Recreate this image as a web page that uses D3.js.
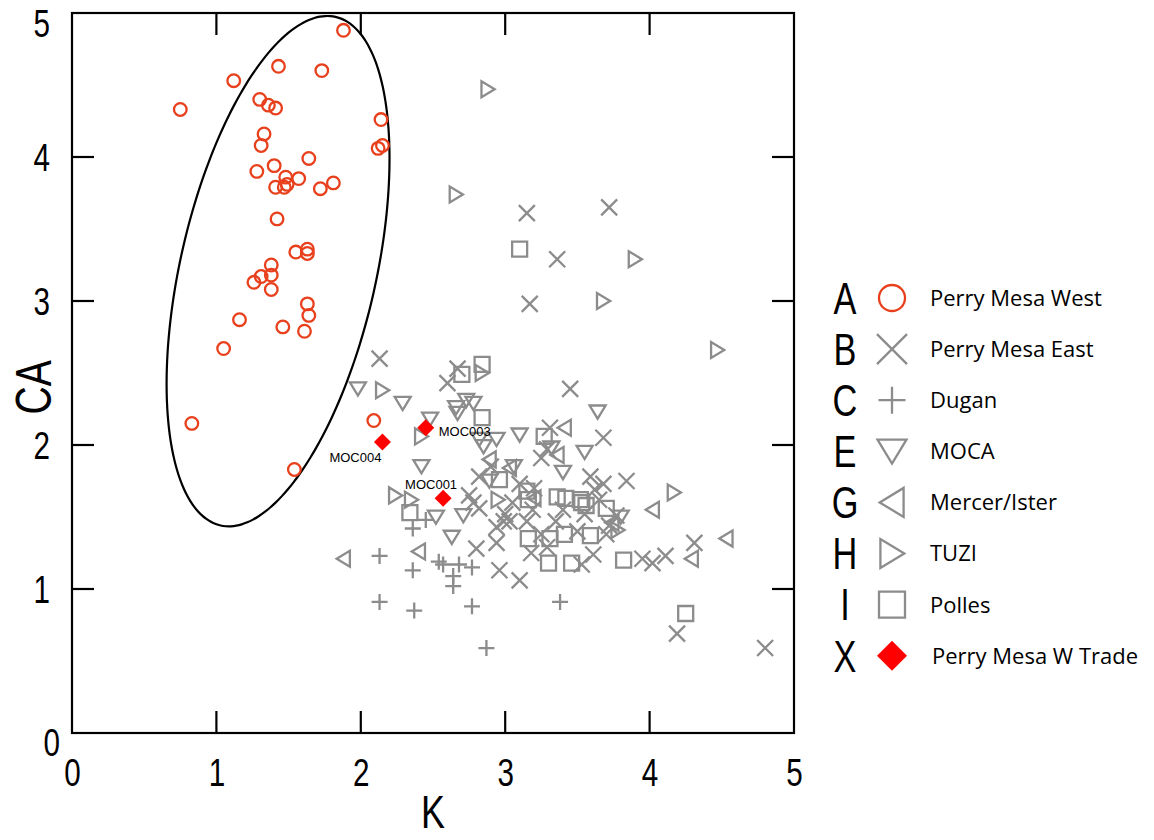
<!DOCTYPE html>
<html>
<head>
<meta charset="utf-8">
<script src="https://cdn.jsdelivr.net/npm/d3@7"></script>
<style>
  body { margin: 0; background: #fff; }
  svg { display: block; }
</style>
</head>
<body>
<svg width="1154" height="840"></svg>
<script>
// axis ticks
const kTicks = [0, 1, 2, 3, 4, 5];
const caTicks = [0, 1, 2, 3, 4, 5];

// [K, CA] per group
const perryMesaWest = [[1.88,4.88],[1.43,4.63],[1.73,4.60],[1.12,4.53],[0.75,4.33],[1.30,4.40],[1.36,4.36],[1.41,4.34],
  [2.14,4.26],[1.33,4.16],[1.31,4.08],[2.15,4.08],[2.12,4.06],[1.64,3.99],[1.28,3.90],[1.40,3.94],[1.48,3.86],[1.57,3.85],
  [1.41,3.79],[1.49,3.81],[1.47,3.79],[1.81,3.82],[1.72,3.78],[1.42,3.57],[1.55,3.34],[1.63,3.36],[1.63,3.33],[1.38,3.25],
  [1.31,3.17],[1.26,3.13],[1.38,3.18],[1.38,3.08],[1.63,2.98],[1.64,2.90],[1.16,2.87],[1.46,2.82],[1.61,2.79],[1.05,2.67],
  [0.83,2.15],[2.09,2.17],[1.54,1.83]];
const perryMesaEast = [[3.15,3.61],[3.72,3.65],[3.36,3.29],[3.17,2.98],[2.13,2.60],[2.67,2.53],[2.60,2.43],[3.45,2.39],
  [3.68,2.05],[3.31,2.12],[3.25,1.91],[3.29,1.97],[2.82,1.78],[3.10,1.73],[3.59,1.78],[3.68,1.73],[3.84,1.75],[3.62,1.69],
  [2.78,1.60],[2.75,1.65],[2.82,1.56],[2.99,1.47],[2.94,1.43],[3.03,1.47],[3.15,1.47],[3.19,1.55],[2.80,1.28],[2.94,1.32],
  [2.96,1.13],[3.10,1.06],[3.18,1.25],[3.29,1.29],[3.53,1.17],[3.61,1.24],[3.72,1.44],[3.77,1.51],[3.95,1.21],[4.02,1.18],
  [4.11,1.23],[4.31,1.32],[4.19,0.69],[4.80,0.59],[3.05,1.60],[3.20,1.70],[3.40,1.55],[3.55,1.52],[3.50,1.40],[3.65,1.62],
  [3.25,1.38],[2.90,1.85],[3.00,1.52],[3.35,1.47],[3.70,1.38]];
const dugan = [[2.36,1.42],[2.45,1.48],[2.13,1.23],[2.36,1.13],[2.54,1.19],[2.57,1.17],[2.68,1.17],[2.77,1.15],[2.64,1.09],
  [2.64,1.02],[2.13,0.91],[2.37,0.85],[2.77,0.88],[2.87,0.59],[3.38,0.91]];
const moca = [[1.98,2.39],[2.29,2.29],[2.48,2.18],[2.42,1.85],[2.52,1.50],[2.71,1.51],[2.63,1.36],[2.73,2.31],[2.66,2.26],
  [2.78,2.29],[2.67,2.22],[2.82,2.04],[2.94,2.04],[3.10,2.07],[2.85,1.99],[3.06,1.85],[3.32,1.98],[3.40,1.81],[2.89,1.75],
  [3.64,2.23],[3.55,1.95],[3.80,1.50]];
const mercerIster = [[1.88,1.21],[2.40,1.26],[2.89,1.90],[3.03,1.84],[3.41,2.12],[3.36,1.93],[4.02,1.55],[4.53,1.35],
  [4.29,1.21],[3.20,1.63],[3.74,1.46]];
const tuzi = [[2.88,4.47],[2.66,3.74],[3.90,3.29],[3.68,3.00],[4.47,2.66],[4.17,1.67],[2.15,2.38],[2.42,2.06],[2.84,2.50],
  [2.24,1.65],[2.35,1.62],[3.78,1.41],[2.95,1.62]];
const polles = [[3.10,3.36],[2.84,2.56],[2.70,2.49],[2.84,2.19],[2.34,1.53],[3.27,2.06],[2.96,1.76],[3.16,1.62],[3.36,1.64],
  [3.42,1.63],[3.53,1.60],[3.56,1.58],[3.70,1.56],[3.16,1.35],[3.31,1.35],[3.41,1.38],[3.59,1.37],[3.30,1.18],[3.46,1.18],
  [3.82,1.20],[4.25,0.83],[3.52,1.62],[3.15,1.68]];
const tradeIds = ["MOC001", "MOC003", "MOC004"];
const tradePoints = [[2.57,1.63],[2.45,2.12],[2.15,2.02]];

// ellipse around Perry Mesa West: centre, semi-axes, angle (deg)
const ellipseCentre = [1.427, 3.207];
const ellipseAxes = [1.81, 0.678];
const ellipseAngle = 77.3;

const legendLetters = ["A", "B", "C", "E", "G", "H", "I", "X"];
const legendNames = ["Perry Mesa West", "Perry Mesa East", "Dugan", "MOCA", "Mercer/Ister", "TUZI", "Polles", "Perry Mesa W Trade"];

const svg = d3.select("svg");
const m = {left: 72, top: 13, w: 722, h: 720};
const g = svg.append("g").attr("transform", "translate(" + m.left + "," + m.top + ")");

const x = d3.scaleLinear().domain([0, 5]).range([0, m.w]);
const y = d3.scaleLinear().domain([0, 5]).range([m.h, 0]);

const GREY = "#8c8c8c", ORANGE = "#e8401c", RED = "#ff0000";
const sans = "'Liberation Sans', Arial, sans-serif";
const squeeze = 0.78; // condensed look for axis digits and letters

// outline marker shapes, s = half size
const shapes = {
  circle: s => `M${s},0A${s},${s} 0 1,1 ${-s},0A${s},${s} 0 1,1 ${s},0Z`,
  cross: s => `M${-s},${-s}L${s},${s}M${-s},${s}L${s},${-s}`,
  plus: s => `M${-s},0L${s},0M0,${-s}L0,${s}`,
  down: s => `M${-s},${-s*0.8}L${s},${-s*0.8}L0,${s*0.85}Z`,
  left: s => `M${-s*0.85},0L${s*0.8},${-s}L${s*0.8},${s}Z`,
  right: s => `M${s*0.85},0L${-s*0.8},${-s}L${-s*0.8},${s}Z`,
  square: s => `M${-s},${-s}H${s}V${s}H${-s}Z`,
  diamond: s => `M0,${-s}L${s},0L0,${s}L${-s},0Z`
};

const groups = [
  {data: perryMesaEast, shape: "cross", size: 8, color: GREY},
  {data: dugan, shape: "plus", size: 8, color: GREY},
  {data: moca, shape: "down", size: 8, color: GREY},
  {data: mercerIster, shape: "left", size: 8, color: GREY},
  {data: tuzi, shape: "right", size: 8, color: GREY},
  {data: polles, shape: "square", size: 7.5, color: GREY},
  {data: perryMesaWest, shape: "circle", size: 6.3, color: ORANGE}
];

// ellipse
const ellPts = d3.range(0, 360, 3).map(a => {
  const t = a * Math.PI / 180, r = ellipseAngle * Math.PI / 180;
  const u = ellipseAxes[0] * Math.cos(t), v = ellipseAxes[1] * Math.sin(t);
  return [ellipseCentre[0] + u * Math.cos(r) - v * Math.sin(r), ellipseCentre[1] + u * Math.sin(r) + v * Math.cos(r)];
});
g.append("path")
  .attr("d", d3.line().x(d => x(d[0])).y(d => y(d[1])).curve(d3.curveCardinalClosed)(ellPts))
  .attr("fill", "none").attr("stroke", "#000").attr("stroke-width", 2.2);

groups.forEach(gr => {
  g.append("g").selectAll("path")
    .data(gr.data)
    .enter()
    .append("path")
    .attr("transform", d => "translate(" + x(d[0]) + "," + y(d[1]) + ")")
    .attr("d", shapes[gr.shape](gr.size))
    .attr("fill", "none")
    .attr("stroke", gr.color)
    .attr("stroke-width", 2.3);
});

// trade samples
g.append("g").selectAll("path")
  .data(tradePoints)
  .enter()
  .append("path")
  .attr("transform", d => "translate(" + x(d[0]) + "," + y(d[1]) + ")")
  .attr("d", shapes.diamond(8.5))
  .attr("fill", RED);

const labelPos = {MOC001: [-12, -9, "middle"], MOC003: [13, 8, "start"], MOC004: [-1, 20, "end"]};
g.append("g").selectAll("text")
  .data(tradePoints)
  .enter()
  .append("text")
  .attr("x", (d, i) => x(d[0]) + labelPos[tradeIds[i]][0])
  .attr("y", (d, i) => y(d[1]) + labelPos[tradeIds[i]][1])
  .attr("text-anchor", (d, i) => labelPos[tradeIds[i]][2])
  .attr("font-family", sans)
  .attr("font-size", "13px")
  .attr("fill", "#000")
  .text((d, i) => tradeIds[i]);

// frame and inward ticks on all sides
g.append("rect").attr("width", m.w).attr("height", m.h)
  .attr("fill", "none").attr("stroke", "#000").attr("stroke-width", 2.2);

const tickLen = 22;
const tk = g.append("g").attr("stroke", "#000").attr("stroke-width", 2.2);
kTicks.slice(1, -1).forEach(v => {
  tk.append("line").attr("x1", x(v)).attr("x2", x(v)).attr("y1", m.h).attr("y2", m.h - tickLen);
  tk.append("line").attr("x1", x(v)).attr("x2", x(v)).attr("y1", 0).attr("y2", tickLen);
});
caTicks.slice(1, -1).forEach(v => {
  tk.append("line").attr("y1", y(v)).attr("y2", y(v)).attr("x1", 0).attr("x2", tickLen);
  tk.append("line").attr("y1", y(v)).attr("y2", y(v)).attr("x1", m.w).attr("x2", m.w - tickLen);
});

const xAxis = g.append("g").attr("transform", "translate(0," + m.h + ")")
  .call(d3.axisBottom(x).tickValues(kTicks).tickSize(0).tickPadding(27).tickFormat(d3.format("d")));
const yAxis = g.append("g")
  .call(d3.axisLeft(y).tickValues(caTicks).tickSize(0).tickPadding(22).tickFormat(d3.format("d")));
[xAxis, yAxis].forEach(a => {
  a.select(".domain").remove();
  a.selectAll("text").attr("font-family", sans).attr("font-size", "38px").attr("fill", "#000")
    .attr("transform", "scale(" + squeeze + ",1)");
});
xAxis.selectAll("text").attr("dy", "0.68em");
yAxis.selectAll("text").attr("dy", d => d === 5 ? "0.62em" : d === 0 ? "0.58em" : "0.36em")
  .attr("x", d => (d === 0 ? -12 : -22) / squeeze);

svg.append("text")
  .attr("transform", "translate(51," + (m.top + y(2.4)) + ") rotate(-90) scale(" + squeeze + ",1)")
  .attr("text-anchor", "middle")
  .attr("font-family", sans).attr("font-size", "50px")
  .text("CA");
svg.append("text")
  .attr("transform", "translate(" + (m.left + x(2.5)) + ",828) scale(" + squeeze + ",1)")
  .attr("text-anchor", "middle")
  .attr("font-family", sans).attr("font-size", "46px")
  .text("K");

// legend
const legendShapes = ["circle", "cross", "plus", "down", "left", "right", "square", "diamond"];
const legendSizes = [13, 15, 13.5, 14.5, 14.5, 14.5, 13, 15];
const legend = svg.append("g").attr("transform", "translate(0,298)");
const rows = legend.selectAll("g").data(legendLetters).enter().append("g")
  .attr("transform", (d, i) => "translate(0," + i * 51.1 + ")");
rows.append("text")
  .attr("transform", "translate(845,0) scale(" + squeeze + ",1)")
  .attr("dy", "0.36em").attr("text-anchor", "middle")
  .attr("font-family", sans).attr("font-size", "44px")
  .text(d => d);
rows.append("path")
  .attr("transform", "translate(892,0)")
  .attr("d", (d, i) => shapes[legendShapes[i]](legendSizes[i]))
  .attr("fill", (d, i) => i === 7 ? RED : "none")
  .attr("stroke", (d, i) => i === 7 ? "none" : i === 0 ? ORANGE : GREY)
  .attr("stroke-width", 2.3);
rows.append("text")
  .attr("x", (d, i) => i === 7 ? 932 : 930).attr("dy", "0.36em")
  .attr("font-family", "'Open Sans', 'Noto Sans', sans-serif").attr("font-size", "22px")
  .text((d, i) => legendNames[i]);
</script>
</body>
</html>
